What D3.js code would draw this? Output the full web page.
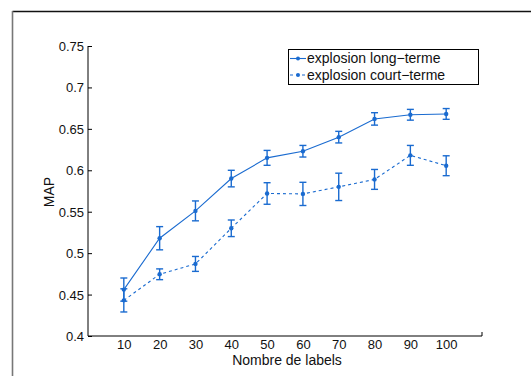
<!DOCTYPE html>
<html>
<head>
<meta charset="utf-8">
<script src="https://cdn.jsdelivr.net/npm/d3@7"></script>
<style>
  html, body { margin: 0; padding: 0; background: #fff; }
  svg { display: block; font-family: "Liberation Sans", Arial, sans-serif; }
</style>
</head>
<body>
<svg id="chart" width="531" height="376"></svg>
<script>
// Number of labels on the x axis
const labels = [10, 20, 30, 40, 50, 60, 70, 80, 90, 100];

// MAP for long-term explosion, with its error half-widths
const longTerm = [0.456, 0.518, 0.551, 0.590, 0.615, 0.623, 0.640, 0.662, 0.667, 0.668];
const longErr  = [0.014, 0.014, 0.012, 0.010, 0.009, 0.007, 0.007, 0.0075, 0.0065, 0.0065];

// MAP for short-term explosion, with its error half-widths
const shortTerm = [0.443, 0.4745, 0.487, 0.530, 0.572, 0.5715, 0.580, 0.589, 0.618, 0.6055];
const shortErr  = [0.014, 0.0065, 0.009, 0.010, 0.013, 0.014, 0.0165, 0.012, 0.012, 0.012];

const yTicks = [0.4, 0.45, 0.5, 0.55, 0.6, 0.65, 0.7, 0.75];
const seriesNames = ["explosion long\u2212terme", "explosion court\u2212terme"];

const blue = "#1a6bd0";
const svg = d3.select("#chart");

// outer frame (top and left edges)
svg.append("line").attr("x1", 12.5).attr("x2", 531).attr("y1", 11.5).attr("y2", 11.5)
  .attr("stroke", "#111").attr("stroke-width", 1.3);
svg.append("line").attr("x1", 12.5).attr("x2", 12.5).attr("y1", 11).attr("y2", 376)
  .attr("stroke", "#777").attr("stroke-width", 1.6);

const plotL = 88, plotR = 482, plotT = 46, plotB = 336;
const x = d3.scaleLinear().domain([0, 110]).range([plotL, plotR]);
const y = d3.scaleLinear().domain([0.4, 0.75]).range([plotB, plotT]);

// y axis, ticks pointing inward
const yAxis = svg.append("g").attr("transform", `translate(${plotL},0)`)
  .call(d3.axisRight(y).tickValues(yTicks).tickSize(4)
    .tickFormat(d => String(+d.toFixed(2))));
yAxis.select(".domain").attr("stroke", "#000").attr("d", `M0,${plotT}V${plotB}`);
yAxis.selectAll(".tick line").attr("stroke", "#000");
yAxis.selectAll(".tick text").attr("x", -4).attr("text-anchor", "end")
  .attr("font-size", 13).attr("fill", "#111").attr("dy", "0.35em");

// x axis
const xAxis = svg.append("g").attr("transform", `translate(0,${plotB})`)
  .call(d3.axisBottom(x).tickValues(labels).tickSize(0).tickPadding(4));
xAxis.select(".domain").attr("stroke", "#000").attr("d", `M${plotL},0H${plotR}V-4`);
xAxis.selectAll(".tick text").attr("font-size", 13).attr("fill", "#111");

// axis titles
svg.append("text").attr("x", 287).attr("y", 365)
  .attr("text-anchor", "middle").attr("font-size", 14).attr("fill", "#111")
  .text("Nombre de labels");
svg.append("text").attr("transform", "translate(54,192) rotate(-90)")
  .attr("text-anchor", "middle").attr("font-size", 14).attr("fill", "#111")
  .text("MAP");

const line = d3.line().x((d, i) => x(labels[i])).y(d => y(d));

function drawSeries(vals, errs, dash) {
  const g = svg.append("g");
  g.append("path").attr("d", line(vals)).attr("fill", "none")
    .attr("stroke", blue).attr("stroke-width", 1.1)
    .attr("stroke-dasharray", dash);
  vals.forEach((v, i) => {
    const cx = x(labels[i]);
    const y1 = y(v + errs[i]), y2 = y(v - errs[i]);
    g.append("line").attr("x1", cx).attr("x2", cx).attr("y1", y1).attr("y2", y2)
      .attr("stroke", blue).attr("stroke-width", 1.4);
    [y1, y2].forEach(yy => g.append("line")
      .attr("x1", cx - 3.5).attr("x2", cx + 3.5).attr("y1", yy).attr("y2", yy)
      .attr("stroke", blue).attr("stroke-width", 1.4));
    g.append("circle").attr("cx", cx).attr("cy", y(v)).attr("r", 2.2).attr("fill", blue);
  });
}
drawSeries(longTerm, longErr, null);
drawSeries(shortTerm, shortErr, "3,3");

// legend
const lg = svg.append("g");
lg.append("rect").attr("x", 288.5).attr("y", 49.5).attr("width", 190).attr("height", 35)
  .attr("fill", "#fff").attr("stroke", "#000").attr("stroke-width", 1);
seriesNames.forEach((name, i) => {
  const ly = 58.5 + i * 16.5;
  lg.append("line").attr("x1", 290).attr("x2", 306).attr("y1", ly).attr("y2", ly)
    .attr("stroke", blue).attr("stroke-width", 1.1)
    .attr("stroke-dasharray", i === 1 ? "3,3" : null);
  lg.append("circle").attr("cx", 298).attr("cy", ly).attr("r", 2).attr("fill", blue);
  lg.append("text").attr("x", 307).attr("y", ly).attr("dy", "0.35em")
    .attr("font-size", 14).attr("fill", "#111").text(name);
});
</script>
</body>
</html>
